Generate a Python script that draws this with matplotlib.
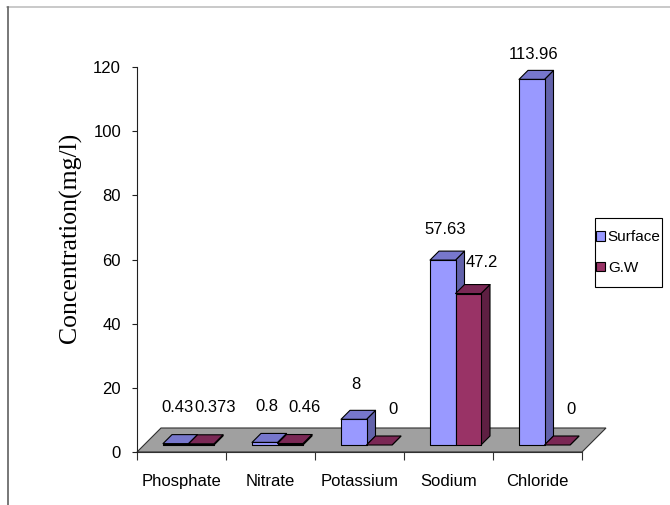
import matplotlib
matplotlib.use("Agg")
import matplotlib.pyplot as plt
from matplotlib.patches import Polygon, Rectangle
from matplotlib.lines import Line2D

# ---- data ----
categories = ["Phosphate", "Nitrate", "Potassium", "Sodium", "Chloride"]
surface = [0.43, 0.8, 8, 57.63, 113.96]
groundwater = [0.373, 0.46, 0, 47.2, 0]
series_names = ["Surface", "G.W"]
yticks = [0, 20, 40, 60, 80, 100, 120]
ylabel = "Concentration(mg/l)"

# ---- fonts ----
SANS = ["Liberation Sans", "DejaVu Sans"]
SERIF = ["Liberation Serif", "DejaVu Serif"]
FS = 12

# ---- colours (front, top, side) ----
colors = {
    "Surface": ("#9999FF", "#7777CC", "#6262AA"),
    "G.W": ("#993366", "#7A2855", "#5E1F42"),
}
FLOOR = "#A0A0A0"

W, H = 670, 505
fig = plt.figure(figsize=(W / 100, H / 100), dpi=100)
ax = fig.add_axes([137 / W, (H - 452) / H, 445 / W, 385 / H])
ax.set_xlim(0, len(categories))
ax.set_ylim(0, 120)
ax.patch.set_visible(False)

px_x = 445 / len(categories)
px_y = 385 / 120


def dx(p):
    return p / px_x


def dy(p):
    return p / px_y


# floor
fd = 24
floor = Polygon([(0, 0), (len(categories), 0),
                 (len(categories) + dx(fd), dy(fd)), (dx(fd), dy(fd))],
                closed=True, fc=FLOOR, ec="#303030", lw=0.8, clip_on=False, zorder=1)
ax.add_patch(floor)

# bar geometry
bw = dx(25.5)
sx, sy = dx(7), dy(7)
ddx, ddy = dx(9), dy(9)


def draw_bar(x0, v, cols):
    front_c, top_c, side_c = cols
    y0, y1 = sy, sy + v
    kw = dict(ec="black", lw=0.8, clip_on=False, zorder=3, joinstyle="round")
    ax.add_patch(Polygon([(x0 + bw, y0), (x0 + bw + ddx, y0 + ddy),
                          (x0 + bw + ddx, y1 + ddy), (x0 + bw, y1)],
                         closed=True, fc=side_c, **kw))
    ax.add_patch(Polygon([(x0, y1), (x0 + bw, y1), (x0 + bw + ddx, y1 + ddy),
                          (x0 + ddx, y1 + ddy)], closed=True, fc=top_c, **kw))
    if v > 0:
        ax.add_patch(Rectangle((x0, y0), bw, v, fc=front_c, **kw))


label_dx = {"Surface": 2, "G.W": 14}
for i, cat in enumerate(categories):
    center = i + 0.5 + sx
    for j, (name, vals) in enumerate(zip(series_names, [surface, groundwater])):
        v = vals[i]
        x0 = center - bw + j * bw
        draw_bar(x0, v, colors[name])
        off_px = 36 - 0.1 * v
        ax.annotate(f"{v:g}", xy=(x0 + bw / 2, sy + v),
                    xytext=(label_dx[name] * 0.72, off_px * 0.72),
                    textcoords="offset points", ha="center", va="center",
                    fontsize=FS, family=SANS,
                    annotation_clip=False, zorder=5)

# axes
for s in ("top", "right"):
    ax.spines[s].set_visible(False)
ax.spines["left"].set_color("#202020")
ax.spines["bottom"].set_color("#303030")
ax.spines["left"].set_linewidth(0.8)
ax.spines["bottom"].set_linewidth(0.8)
ax.spines["bottom"].set_zorder(2)

ax.set_yticks(yticks)
ax.set_yticklabels([str(t) for t in yticks], fontsize=FS, family=SANS)
ax.tick_params(axis="y", direction="out", length=3.5, width=0.8, pad=8, color="#202020")

ax.set_xticks(range(len(categories) + 1))
ax.set_xticklabels([""] * (len(categories) + 1))
ax.tick_params(axis="x", which="major", direction="out", length=6, width=0.8, color="#303030")
ax.set_xticks([i + 0.5 for i in range(len(categories))], minor=True)
ax.set_xticklabels(categories, minor=True, fontsize=FS, family=SANS)
ax.tick_params(axis="x", which="minor", length=0, pad=16)

fig.text(70 / W, 1 - 238 / H, ylabel, rotation=90, ha="center", va="center",
         fontsize=18.5, family=SERIF)

# legend: entries without their own frame, boxed by a plain rectangle
lx0, lx1, ly0, ly1 = 595, 662, 218, 287
fig.add_artist(Rectangle((lx0 / W, 1 - ly1 / H), (lx1 - lx0) / W, (ly1 - ly0) / H,
                         transform=fig.transFigure, fc="white", ec="black", lw=0.8,
                         zorder=4))
handles = [Rectangle((0, 0), 1, 1, fc=colors[n][0], ec="black", lw=0.8) for n in series_names]
leg = fig.legend(handles, series_names, loc="center",
                 bbox_to_anchor=((lx0 + lx1) / 2 / W, 1 - (ly0 + ly1) / 2 / H),
                 frameon=False, handlelength=0.55, handleheight=0.55, handletextpad=0.2,
                 labelspacing=1.05, borderpad=0, borderaxespad=0,
                 prop={"family": SANS, "size": 11})
leg.set_zorder(5)

# outer frame lines
fig.add_artist(Line2D([7 / W, 1], [1 - 7 / H, 1 - 7 / H], transform=fig.transFigure,
                      color="#C0C0C0", lw=1.2))
fig.add_artist(Line2D([8 / W, 8 / W], [0, 1 - 7 / H], transform=fig.transFigure,
                      color="#606060", lw=1.2))

fig.savefig("out.png", dpi=100)
